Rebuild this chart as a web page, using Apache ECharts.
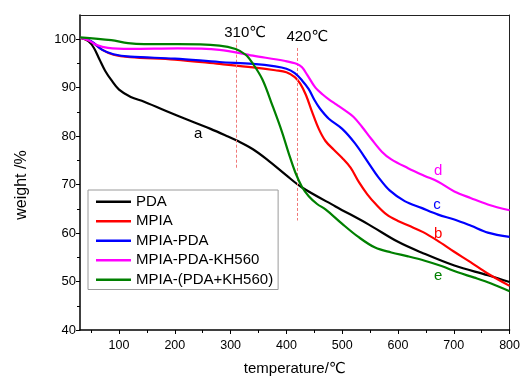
<!DOCTYPE html>
<html>
<head>
<meta charset="utf-8">
<script src="https://cdn.jsdelivr.net/npm/echarts@6/dist/echarts.min.js"></script>
<style>html,body{margin:0;padding:0;background:#fff;overflow:hidden;}#c{width:523px;height:381px;}</style>
</head>
<body>
<div id="c"></div>
<script>
// ---- data ----
const seriesNames = ['PDA', 'MPIA', 'MPIA-PDA', 'MPIA-PDA-KH560', 'MPIA-(PDA+KH560)'];

const pdaT = [30,45,55,65,75,86,100,121,145,205,264,294,311,340,365,400,428,488,547,600,642,701,761,800];
const pdaW = [100.3,99.6,98.2,95.8,93.5,91.6,89.6,88.1,87.1,84.2,81.5,80.0,79.1,77.3,75.2,71.9,69.4,65.5,61.8,58.2,56.0,53.3,51.3,49.9];

const mpiaT = [30,50,70,90,120,200,280,340,380,400,415,425,435,446,458,470,485,500,515,530,545,560,580,600,620,645,670,700,730,760,800];
const mpiaW = [100.3,99.5,97.8,96.8,96.3,95.8,94.9,94.2,93.6,93.2,92.2,90.8,88.5,85.0,81.5,79.0,77.2,75.5,73.5,70.5,68.0,66.0,63.8,62.5,61.5,60.2,58.5,56.2,54.0,51.7,49.1];

const mpdaT = [30,50,70,90,120,200,280,340,380,400,415,428,440,450,460,476,500,523,547,565,585,612,642,672,701,731,761,800];
const mpdaW = [100.3,99.6,97.8,96.9,96.4,96.0,95.3,94.9,94.4,93.9,93.0,91.5,89.7,87.5,85.7,83.6,81.5,78.5,74.5,71.5,68.8,66.6,65.2,63.8,62.8,61.5,60.1,59.2];

const kh560T = [30,45,60,80,120,205,280,340,398,419,428,437,452,465,476,490,505,520,535,553,571,588,618,648,672,701,731,761,800];
const kh560W = [100.3,99.8,98.8,98.2,98.0,98.1,97.8,96.6,95.5,94.9,94.2,92.7,90.0,88.6,87.6,86.5,85.3,84.0,82.0,79.3,76.8,75.2,73.4,71.8,70.6,68.6,67.2,65.9,64.7];

const mixT = [30,86,116,145,205,280,309,327,339,357,375,392,404,416,428,440,455,470,499,529,559,588,618,648,678,707,737,767,800];
const mixW = [100.4,99.8,99.2,99.0,99.0,98.7,98.0,96.8,95.1,91.7,86.3,80.9,76.5,72.5,69.5,67.6,66.0,64.9,62.0,59.2,57.0,56.0,55.2,54.3,53.2,51.9,50.8,49.6,48.0];

const xTickValues = [100,200,300,400,500,600,700,800];
const xMinorValues = [50,150,250,350,450,550,650,750];
const yTickValues = [40,50,60,70,80,90,100];
const yMinorValues = [45,55,65,75,85,95];

const curveLabels = ['a','b','c','d','e'];
const curveLabelT = [242,672,670,672,672];
const curveLabelW = [80.5,59.9,65.8,72.8,51.1];

const tempMarks = [310, 420];
const tempLineTop = [99.9, 98.2];
const tempLineBottom = [73.2, 62.6];
const tempTextT = [326, 437.5];
const tempTextW = [101.3, 100.4];

// ---- chart ----
const colors = ['#000000', '#ff0000', '#0000ff', '#ff00ff', '#008000'];
const font = '"Liberation Sans", Arial, "DejaVu Sans", "Noto Sans CJK SC", sans-serif';
const xs = [pdaT, mpiaT, mpdaT, kh560T, mixT];
const ws = [pdaW, mpiaW, mpdaW, kh560W, mixW];

const chart = echarts.init(document.getElementById('c'), null, {renderer: 'canvas'});

const series = seriesNames.map((name, i) => ({
  name: name,
  type: 'line',
  xAxisIndex: 0,
  yAxisIndex: 0,
  data: xs[i].map((t, k) => [t, ws[i][k]]),
  smooth: 0.35,
  showSymbol: false,
  symbol: 'none',
  lineStyle: {color: colors[i], width: 2.2},
  itemStyle: {color: colors[i]},
  z: 3 + i,
  animation: false,
  markPoint: {
    symbol: 'circle',
    symbolSize: 0,
    animation: false,
    label: {show: true, position: 'inside', color: colors[i], fontSize: 15, fontFamily: font, formatter: curveLabels[i]},
    data: [{coord: [curveLabelT[i], curveLabelW[i]], value: curveLabels[i]}]
  }
}));

// temperature markers on the first series
series[0].markLine = {
  symbol: 'none',
  silent: true,
  animation: false,
  lineStyle: {color: '#f07878', type: [3, 2], width: 1},
  label: {show: false},
  data: tempMarks.map((t, k) => [{coord: [t, tempLineTop[k]]}, {coord: [t, tempLineBottom[k]]}])
};
series[0].markPoint.data = series[0].markPoint.data.concat(
  tempMarks.map((t, k) => ({
    coord: [tempTextT[k], tempTextW[k]],
    value: t + '℃',
    label: {show: true, position: 'inside', color: '#000', fontSize: 15, fontFamily: font, formatter: t + '℃'}
  }))
);

const option = {
  backgroundColor: '#fff',
  animation: false,
  textStyle: {fontFamily: font},
  grid: {left: 80, right: 11, top: 15, bottom: 47, containLabel: false},
  legend: {
    data: seriesNames,
    orient: 'vertical',
    left: 88,
    top: 190,
    padding: [2, 5, 0, 8],
    itemGap: 0,
    itemWidth: 35,
    itemHeight: 2.5,
    icon: 'rect',
    borderColor: '#9a9a9a',
    borderWidth: 1,
    textStyle: {fontSize: 15, lineHeight: 19.5, color: '#000', fontFamily: font}
  },
  xAxis: [
    {
      type: 'value', min: 30, max: 800, position: 'bottom',
      name: 'temperature/℃', nameLocation: 'middle', nameGap: 31,
      nameTextStyle: {fontSize: 15, color: '#000', fontFamily: font},
      axisLine: {show: true, onZero: false, lineStyle: {color: '#000', width: 1.5}},
      axisTick: {show: true, inside: false, length: 4, customValues: xTickValues, lineStyle: {color: '#000', width: 1}},
      axisLabel: {show: true, customValues: xTickValues, fontSize: 12.5, color: '#000', margin: 9, fontFamily: font},
      splitLine: {show: false}
    },
    {
      type: 'value', min: 30, max: 800, position: 'bottom',
      axisLine: {show: false, onZero: false},
      axisTick: {show: true, inside: false, length: 3, customValues: xMinorValues, lineStyle: {color: '#000', width: 1}},
      axisLabel: {show: false},
      splitLine: {show: false}
    },
    {
      type: 'value', min: 30, max: 800, position: 'top',
      axisLine: {show: true, onZero: false, lineStyle: {color: '#222', width: 1}},
      axisTick: {show: false}, axisLabel: {show: false}, splitLine: {show: false}
    }
  ],
  yAxis: [
    {
      type: 'value', min: 40, max: 105, position: 'left',
      name: 'weight /%', nameLocation: 'middle', nameGap: 50, nameRotate: 90,
      nameTextStyle: {fontSize: 16, color: '#000', fontFamily: font, padding: [0, 25, 0, 0]},
      axisLine: {show: true, onZero: false, lineStyle: {color: '#000', width: 1.5}},
      axisTick: {show: true, inside: false, length: 4, customValues: yTickValues, lineStyle: {color: '#000', width: 1}},
      axisLabel: {show: true, customValues: yTickValues, fontSize: 13, color: '#000', margin: 4, fontFamily: font},
      splitLine: {show: false}
    },
    {
      type: 'value', min: 40, max: 105, position: 'left',
      axisLine: {show: false, onZero: false},
      axisTick: {show: true, inside: false, length: 3, customValues: yMinorValues, lineStyle: {color: '#000', width: 1}},
      axisLabel: {show: false},
      splitLine: {show: false}
    },
    {
      type: 'value', min: 40, max: 105, position: 'right',
      axisLine: {show: true, onZero: false, lineStyle: {color: '#222', width: 1}},
      axisTick: {show: false}, axisLabel: {show: false}, splitLine: {show: false}
    }
  ],
  series: series
};

chart.setOption(option);
</script>
</body>
</html>
